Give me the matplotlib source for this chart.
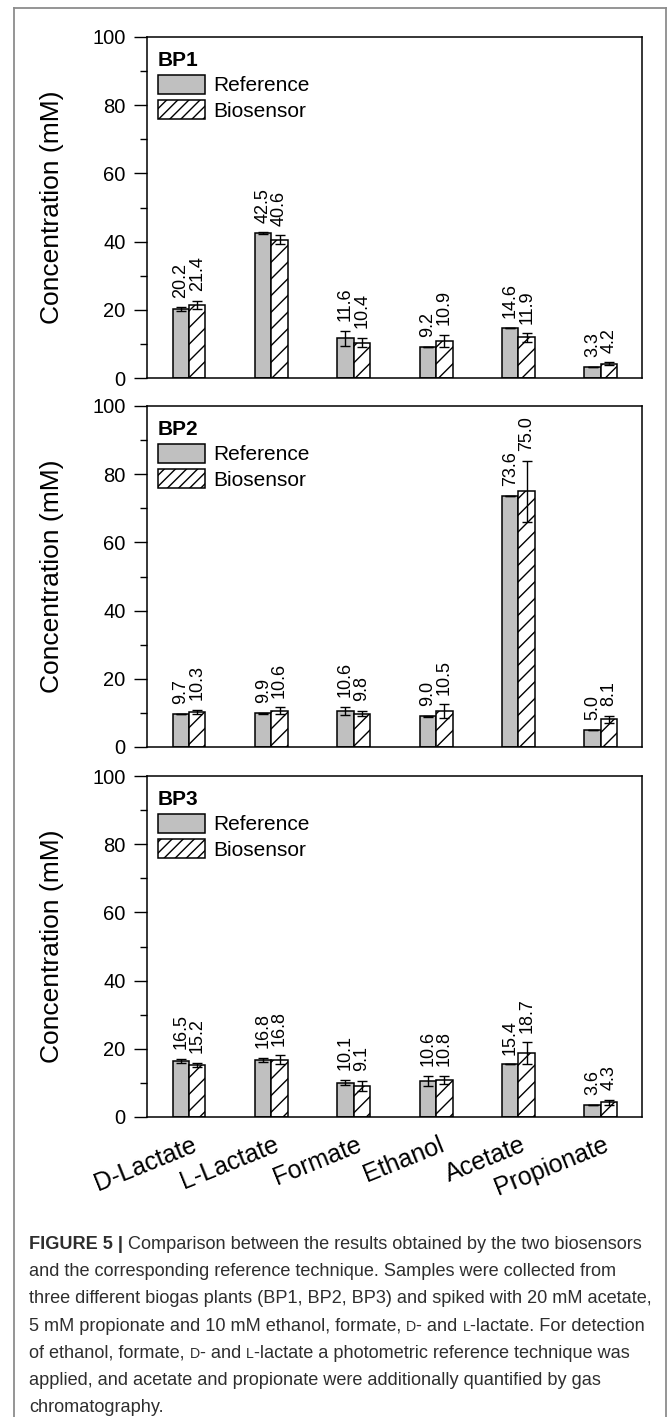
import numpy as np
import matplotlib
matplotlib.use("Agg")
import matplotlib.pyplot as plt
from matplotlib.patches import Patch
from matplotlib.lines import Line2D
from matplotlib.transforms import ScaledTranslation
import matplotlib.ticker as ticker

plt.rcParams["font.family"] = ["Liberation Sans", "DejaVu Sans"]
plt.rcParams["hatch.linewidth"] = 1.0

# ---- data -------------------------------------------------------------
groups = ["D-Lactate", "L-Lactate", "Formate", "Ethanol", "Acetate", "Propionate"]
plants = ["BP1", "BP2", "BP3"]

bp1_ref = [20.2, 42.5, 11.6, 9.2, 14.6, 3.3]
bp1_ref_err = [0.5, 0.2, 2.2, 0.0, 0.0, 0.0]
bp1_bio = [21.4, 40.6, 10.4, 10.9, 11.9, 4.2]
bp1_bio_err = [1.2, 1.2, 1.4, 1.7, 1.2, 0.4]

bp2_ref = [9.7, 9.9, 10.6, 9.0, 73.6, 5.0]
bp2_ref_err = [0.1, 0.1, 1.1, 0.2, 0.0, 0.0]
bp2_bio = [10.3, 10.6, 9.8, 10.5, 75.0, 8.1]
bp2_bio_err = [0.5, 1.0, 0.7, 2.0, 9.0, 1.0]

bp3_ref = [16.5, 16.8, 10.1, 10.6, 15.4, 3.6]
bp3_ref_err = [0.6, 0.6, 0.8, 1.4, 0.0, 0.0]
bp3_bio = [15.2, 16.8, 9.1, 10.8, 18.7, 4.3]
bp3_bio_err = [0.6, 1.3, 1.6, 1.2, 3.2, 0.8]

ref_vals = [bp1_ref, bp2_ref, bp3_ref]
ref_errs = [bp1_ref_err, bp2_ref_err, bp3_ref_err]
bio_vals = [bp1_bio, bp2_bio, bp3_bio]
bio_errs = [bp1_bio_err, bp2_bio_err, bp3_bio_err]

caption_lines = [
    [("FIGURE 5 | ", "bold", 1.0), ("Comparison between the results obtained by the two biosensors", "normal", 1.0)],
    [("and the corresponding reference technique. Samples were collected from", "normal", 1.0)],
    [("three different biogas plants (BP1, BP2, BP3) and spiked with 20 mM acetate,", "normal", 1.0)],
    [("5 mM propionate and 10 mM ethanol, formate, ", "normal", 1.0), ("D", "normal", 0.78),
     ("- and ", "normal", 1.0), ("L", "normal", 0.78), ("-lactate. For detection", "normal", 1.0)],
    [("of ethanol, formate, ", "normal", 1.0), ("D", "normal", 0.78), ("- and ", "normal", 1.0),
     ("L", "normal", 0.78), ("-lactate a photometric reference technique was", "normal", 1.0)],
    [("applied, and acetate and propionate were additionally quantified by gas", "normal", 1.0)],
    [("chromatography.", "normal", 1.0)],
]

# ---- figure -----------------------------------------------------------
W, H = 669, 1417
fig = plt.figure(figsize=(W / 100, H / 100), dpi=100, facecolor="white")

GRAY = "#c0c0c0"
x = np.arange(len(groups))
bw = 0.2

ax_left, ax_w = 147 / W, (642 - 147) / W
panel_px = [(37, 378), (406, 747), (776, 1117)]

for p, (top, bot) in enumerate(panel_px):
    ax = fig.add_axes([ax_left, 1 - bot / H, ax_w, (bot - top) / H])
    ref, bio = ref_vals[p], bio_vals[p]
    rerr, berr = ref_errs[p], bio_errs[p]

    ax.bar(x - bw / 2, ref, bw, color=GRAY, edgecolor="black", linewidth=1.1, zorder=2)
    ax.bar(x + bw / 2, bio, bw, color="white", edgecolor="black", linewidth=1.1,
           hatch="//", zorder=2)
    ax.errorbar(x - bw / 2, ref, yerr=rerr, fmt="none", ecolor="black",
                elinewidth=1.0, capsize=3.3, capthick=1.0, zorder=3)
    ax.errorbar(x + bw / 2, bio, yerr=berr, fmt="none", ecolor="black",
                elinewidth=1.0, capsize=3.3, capthick=1.0, zorder=3)

    for xi, v, e in zip(x - bw / 2, ref, rerr):
        ax.annotate(f"{v:.1f}", (xi, v + e), xytext=(0, 7), textcoords="offset points",
                    rotation=90, ha="center", va="bottom", fontsize=13)
    for xi, v, e in zip(x + bw / 2, bio, berr):
        ax.annotate(f"{v:.1f}", (xi, v + e), xytext=(0, 7), textcoords="offset points",
                    rotation=90, ha="center", va="bottom", fontsize=13)

    ax.set_xlim(-0.51, 5.5)
    ax.set_ylim(0, 100)
    ax.yaxis.set_major_locator(ticker.MultipleLocator(20))
    ax.yaxis.set_minor_locator(ticker.MultipleLocator(10))
    ax.tick_params(axis="y", which="major", direction="out", length=9.4, width=1.0,
                   labelsize=14.5, pad=6)
    ax.tick_params(axis="y", which="minor", direction="out", length=5.2, width=1.0)
    ax.tick_params(axis="x", length=0)
    for s in ax.spines.values():
        s.set_linewidth(1.1)

    ax.set_ylabel("Concentration (mM)", fontsize=19)
    ax.yaxis.set_label_coords(-0.168, 0.5)

    ax.set_xticks(x)
    if p == 2:
        ax.set_xticklabels(groups, rotation=22, ha="right", va="baseline",
                           rotation_mode="anchor", fontsize=18)
        ax.tick_params(axis="x", pad=24)
        offset = ScaledTranslation(9 / 100, 0, fig.dpi_scale_trans)
        for lab in ax.get_xticklabels():
            lab.set_transform(lab.get_transform() + offset)
    else:
        ax.set_xticklabels([])

    handles = [Patch(facecolor=GRAY, edgecolor="black", linewidth=1.1),
               Patch(facecolor="white", edgecolor="black", linewidth=1.1, hatch="///")]
    ax.legend(handles, ["Reference", "Biosensor"], title=plants[p],
              loc="upper left", bbox_to_anchor=(11 / 495, 1 - 14 / 341),
              frameon=False, fontsize=15,
              title_fontproperties={"weight": "bold", "size": 15},
              alignment="left", handlelength=2.25, handleheight=1.05,
              handletextpad=0.38, labelspacing=0.22, borderpad=0,
              borderaxespad=0)

# ---- outer frame ------------------------------------------------------
fc = "#8c8c8c"
fig.add_artist(Line2D([14 / W, 14 / W], [0, 1 - 8 / H], transform=fig.transFigure, color=fc, lw=1.3))
fig.add_artist(Line2D([666 / W, 666 / W], [0, 1 - 8 / H], transform=fig.transFigure, color=fc, lw=1.3))
fig.add_artist(Line2D([14 / W, 666 / W], [1 - 8 / H, 1 - 8 / H], transform=fig.transFigure, color=fc, lw=1.3))

# ---- caption ----------------------------------------------------------
renderer = fig.canvas.get_renderer()
cap_size = 13.1
cap_color = "#2e2e2e"
y0, dy = 1249, 27.2
for i, runs in enumerate(caption_lines):
    xpos = 29
    ypos = 1 - (y0 + i * dy) / H
    for txt, weight, scale in runs:
        t = fig.text(xpos / W, ypos, txt, fontsize=cap_size * scale, fontweight=weight,
                     color=cap_color, ha="left", va="baseline")
        xpos += t.get_window_extent(renderer).width

fig.savefig("out.png", dpi=100, facecolor="white")
